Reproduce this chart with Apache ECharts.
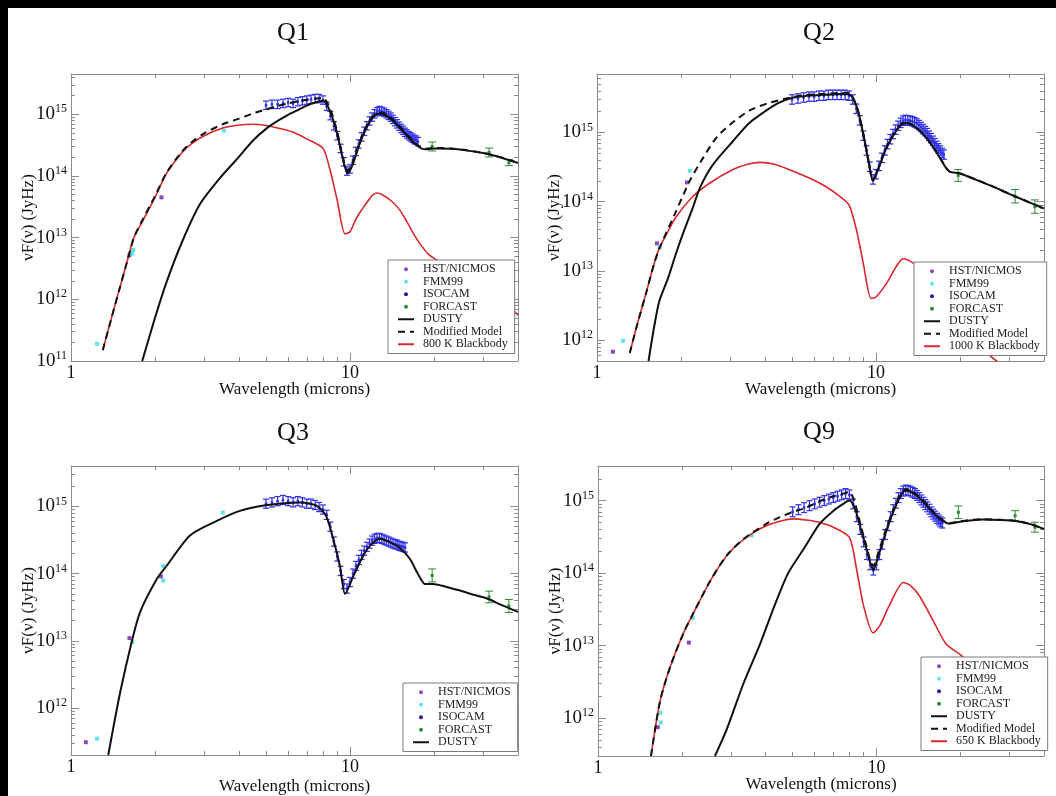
<!DOCTYPE html>
<html>
<head>
<meta charset="utf-8">
<title>SED fits Q1 Q2 Q3 Q9</title>
<script src="https://cdn.jsdelivr.net/npm/echarts@6/dist/echarts.min.js"></script>
<style>
  html, body { margin: 0; padding: 0; background: #fff; }
  #chart { width: 1056px; height: 796px; }
</style>
</head>
<body>
<div id="chart"></div>
<script>
const FONT = "'Liberation Serif', 'Times New Roman', serif";

// --- shared wavelengths (microns) ---
const forcastWave = [19.7, 31.5, 37.1];
const isoWave = [5, 5.25, 5.5, 5.75, 6, 6.25, 6.5, 6.75, 7, 7.25, 7.5, 7.75, 8, 8.25, 8.5, 8.75, 9, 9.25, 9.5, 9.75,
  10, 10.25, 10.5, 10.75, 11, 11.25, 11.5, 11.75, 12, 12.25, 12.5, 12.75, 13, 13.25, 13.5, 13.75, 14, 14.25, 14.5, 14.75,
  15, 15.25, 15.5, 15.75, 16, 16.25, 16.5, 16.75, 17, 17.25, 17.5];
const isoErr = 0.17; // fractional error bar on ISOCAM points
const xLabels = [1, 10];
const xMinor = [2, 3, 4, 5, 6, 7, 8, 9, 20, 30, 40];
const minorSteps = [2, 3, 4, 5, 6, 7, 8, 9];

// --- Q1 ---
const q1YDecades = [1e11, 1e12, 1e13, 1e14, 1e15];
const q1Nicmos = [[1.62, 5.2e12], [2.11, 4.5e13]];
const q1Fmm = [[1.24, 1.9e11], [1.65, 5.5e12], [1.67, 6.3e12], [3.53, 5.4e14]];
const q1Iso = [1.4e15, 1.45e15, 1.45e15, 1.5e15, 1.55e15, 1.5e15, 1.6e15, 1.65e15, 1.7e15, 1.75e15,
  1.8e15, 1.8e15, 1.7e15, 1.35e15, 9.5e14, 6.5e14, 4.5e14, 2.8e14, 1.7e14, 1.2e14,
  1.3e14, 1.8e14, 2.5e14, 3.3e14, 4.3e14, 5.3e14, 6.5e14, 7.8e14, 9e14, 1.02e15,
  1.1e15, 1.15e15, 1.12e15, 1.08e15, 1.02e15, 9.6e14, 9e14, 8.3e14, 7.6e14, 7e14,
  6.4e14, 5.9e14, 5.5e14, 5.1e14, 4.8e14, 4.5e14, 4.3e14, 4.1e14, 3.9e14, 3.8e14, 3.6e14];
const q1Forcast = [3.0e14, 2.4e14, 1.65e14];
const q1ForcastErr = [0.18, 0.18, 0.12];
const q1Dusty = [[1.8, 1e11], [2.0, 5e11], [2.2, 1.9e12], [2.5, 8.5e12], [2.9, 3.5e13], [3.4, 9e13], [3.9, 1.8e14],
  [4.5, 3.8e14], [5.0, 5.8e14], [5.5, 7.8e14], [6.0, 9.8e14], [6.5, 1.17e15], [7.0, 1.38e15], [7.5, 1.55e15],
  [8.0, 1.65e15], [8.3, 1.38e15], [8.6, 9.5e14], [9.0, 4.8e14], [9.4, 2e14], [9.8, 1.1e14], [10.2, 1.5e14],
  [10.8, 3.2e14], [11.4, 5.8e14], [12.0, 8.6e14], [12.6, 1.02e15], [13.2, 1e15], [14.0, 8.4e14], [15.0, 6.2e14],
  [16.0, 4.5e14], [17.0, 3.4e14], [18.0, 2.8e14], [18.8, 2.7e14], [20, 2.8e14], [23, 2.75e14], [26, 2.6e14],
  [30, 2.35e14], [34, 2.05e14], [38, 1.75e14], [40, 1.62e14]];
const q1Modified = [[1.3, 1.5e11], [1.4, 5.2e11], [1.5, 1.6e12], [1.6, 4.6e12], [1.68, 1e13], [1.8, 1.9e13],
  [2.0, 4.7e13], [2.2, 1.13e14], [2.5, 2.5e14], [2.7, 3.5e14], [3.0, 4.9e14], [3.5, 6.9e14], [4.0, 8.5e14],
  [4.5, 1.04e15], [5.0, 1.2e15], [5.5, 1.36e15], [6.0, 1.5e15], [6.5, 1.63e15], [7.0, 1.72e15], [7.6, 1.8e15],
  [8.0, 1.85e15], [8.3, 1.52e15], [8.6, 1.05e15], [9.0, 5.2e14], [9.4, 2.1e14], [9.8, 1.2e14], [10.2, 1.65e14],
  [10.8, 3.4e14], [11.4, 6.1e14], [12.0, 9e14], [12.6, 1.07e15], [13.2, 1.05e15], [14.0, 8.8e14], [15.0, 6.5e14],
  [16.0, 4.7e14], [17.0, 3.5e14], [18.0, 2.87e14], [18.8, 2.76e14], [20, 2.85e14], [23, 2.79e14], [26, 2.63e14],
  [30, 2.36e14], [34, 2.06e14], [38, 1.76e14], [40, 1.63e14]];
const q1Blackbody = [[1.3, 1.5e11], [1.4, 5.2e11], [1.5, 1.6e12], [1.6, 4.6e12], [1.68, 1e13], [1.8, 1.8e13],
  [2.0, 4.5e13], [2.2, 1.1e14], [2.5, 2.4e14], [2.7, 3.3e14], [3.0, 4.5e14], [3.5, 6e14], [4.0, 6.7e14],
  [4.5, 6.9e14], [5.0, 6.6e14], [5.5, 6e14], [6.2, 5.2e14], [7.0, 4e14], [8.0, 2.8e14], [8.5, 1.2e14],
  [9.0, 4e13], [9.6, 1.15e13], [10.0, 1.25e13], [10.5, 2e13], [11.0, 2.8e13], [12.0, 4.8e13], [12.5, 5.3e13],
  [13.0, 5e13], [14.0, 4e13], [15.0, 2.9e13], [16.0, 1.8e13], [17.0, 1.1e13], [18.0, 7.5e12], [19.0, 5.5e12],
  [20, 4.6e12], [22, 3.6e12], [25, 2.4e12], [30, 1.3e12], [35, 9e11], [38, 7e11], [40, 5.5e11]];

// --- Q2 ---
const q2YDecades = [1e12, 1e13, 1e14, 1e15];
const q2Nicmos = [[1.14, 6.8e11], [1.64, 2.5e13], [2.1, 1.9e14]];
const q2Fmm = [[1.24, 9.8e11], [1.68, 2.2e13], [2.15, 2.8e14]];
const q2Iso = [3.0e15, 3.1e15, 3.2e15, 3.3e15, 3.3e15, 3.4e15, 3.4e15, 3.5e15, 3.5e15, 3.5e15,
  3.5e15, 3.5e15, 3.4e15, 3.0e15, 2.2e15, 1.5e15, 9e14, 5.5e14, 3.2e14, 2.1e14,
  2.5e14, 3.3e14, 4.3e14, 5.5e14, 6.8e14, 8e14, 9.5e14, 1.1e15, 1.25e15, 1.38e15,
  1.48e15, 1.52e15, 1.5e15, 1.48e15, 1.45e15, 1.4e15, 1.35e15, 1.28e15, 1.2e15, 1.12e15,
  1.05e15, 9.8e14, 9e14, 8.3e14, 7.6e14, 7e14, 6.4e14, 5.9e14, 5.5e14, 5.1e14, 4.8e14];
const q2Forcast = [2.4e14, 1.2e14, 8.5e13];
const q2ForcastErr = [0.22, 0.25, 0.25];
const q2Dusty = [[1.53, 5e11], [1.6, 1.5e12], [1.67, 3.6e12], [1.8, 8e12], [1.92, 1.8e13], [2.05, 3.8e13],
  [2.2, 8e13], [2.34, 1.6e14], [2.6, 3.4e14], [3.08, 7.6e14], [3.5, 1.35e15], [4.06, 2.1e15], [4.5, 2.7e15],
  [5.05, 3.2e15], [5.5, 3.35e15], [6.5, 3.5e15], [7.5, 3.6e15], [7.9, 3.6e15], [8.2, 3.3e15], [8.6, 2.1e15],
  [9.0, 9.5e14], [9.4, 3.8e14], [9.75, 2e14], [10.2, 3e14], [10.8, 5.5e14], [11.5, 9e14], [12.2, 1.25e15],
  [12.7, 1.38e15], [13.3, 1.32e15], [14.0, 1.15e15], [15.0, 8.8e14], [16.0, 6.2e14], [17.0, 4.2e14],
  [17.8, 3.1e14], [18.4, 2.7e14], [20, 2.55e14], [23, 2.05e14], [26, 1.68e14], [30, 1.3e14], [34, 1.05e14],
  [38, 8.7e13], [40, 8e13]];
const q2Modified = [[1.31, 6.5e11], [1.4, 1.8e12], [1.5, 4.8e12], [1.6, 1.25e13], [1.68, 2.2e13], [1.9, 6.6e13],
  [2.15, 2e14], [2.4, 4.3e14], [2.69, 8.6e14], [3.1, 1.45e15], [3.54, 2.1e15], [4.1, 2.65e15], [4.78, 3.1e15],
  [5.5, 3.45e15], [6.5, 3.62e15], [7.5, 3.72e15], [7.9, 3.72e15], [8.2, 3.4e15], [8.6, 2.15e15], [9.0, 9.7e14],
  [9.4, 3.9e14], [9.75, 2.05e14], [10.2, 3.05e14], [10.8, 5.6e14], [11.5, 9.1e14], [12.2, 1.26e15],
  [12.7, 1.4e15], [13.3, 1.33e15], [14.0, 1.16e15], [15.0, 8.9e14], [16.0, 6.3e14], [17.0, 4.25e14],
  [17.8, 3.12e14], [18.4, 2.72e14], [20, 2.57e14], [23, 2.06e14], [26, 1.69e14], [30, 1.3e14], [34, 1.05e14],
  [38, 8.7e13], [40, 8e13]];
const q2Blackbody = [[1.31, 6.5e11], [1.4, 1.8e12], [1.5, 4.8e12], [1.6, 1.25e13], [1.67, 2.1e13], [1.8, 3.8e13],
  [1.92, 6e13], [2.2, 1.18e14], [2.53, 1.85e14], [3.06, 2.9e14], [3.5, 3.5e14], [3.84, 3.7e14], [4.3, 3.5e14],
  [4.89, 2.9e14], [5.77, 2.2e14], [6.6, 1.66e14], [7.4, 1.2e14], [8.0, 9e13], [8.5, 4e13], [9.0, 1.3e13],
  [9.6, 4e12], [10.0, 4.2e12], [10.9, 6.6e12], [11.8, 1.15e13], [12.5, 1.5e13], [13.2, 1.4e13], [14.3, 1.1e13],
  [16, 6e12], [18, 3e12], [20, 1.8e12], [23, 1e12], [25, 6.5e11], [28, 4.5e11]];

// --- Q3 ---
const q3YDecades = [1e12, 1e13, 1e14, 1e15];
const q3Nicmos = [[1.13, 3.1e11], [1.62, 1.1e13], [2.1, 9.1e13]];
const q3Fmm = [[1.24, 3.5e11], [1.66, 9.6e12], [2.14, 1.3e14], [2.14, 7.9e13], [3.5, 8.1e14]];
const q3Iso = [1.1e15, 1.15e15, 1.2e15, 1.25e15, 1.2e15, 1.15e15, 1.2e15, 1.15e15, 1.1e15, 1.1e15,
  1.05e15, 9.8e14, 9e14, 7.5e14, 5e14, 3e14, 1.8e14, 1.1e14, 7e13, 6e13,
  7.5e13, 1e14, 1.3e14, 1.6e14, 1.9e14, 2.2e14, 2.5e14, 2.8e14, 3.1e14, 3.3e14,
  3.4e14, 3.4e14, 3.3e14, 3.2e14, 3.1e14, 3e14, 2.9e14, 2.8e14, 2.75e14, 2.7e14,
  2.6e14, 2.55e14, 2.5e14, 2.45e14];
const q3Forcast = [9.4e13, 4.5e13, 3.3e13];
const q3ForcastErr = [0.25, 0.22, 0.25];
const q3Dusty = [[1.36, 2e11], [1.5, 1.7e12], [1.65, 9.6e12], [1.77, 2.7e13], [2.03, 8.3e13], [2.2, 1.3e14],
  [2.67, 3.7e14], [3.33, 6.1e14], [4.03, 8.6e14], [5.03, 1.05e15], [5.8, 1.12e15], [6.62, 1.15e15],
  [7.2, 1.1e15], [7.6, 1.02e15], [8.2, 7.3e14], [8.7, 3.3e14], [9.2, 1.3e14], [9.6, 5e13], [10.3, 9.4e13],
  [11.5, 2.3e14], [12.8, 3.3e14], [14.0, 2.9e14], [15.1, 2.4e14], [16.4, 1.65e14], [17.5, 1e14], [18.6, 7e13],
  [19.8, 7e13], [22, 6.4e13], [24.8, 5.6e13], [28, 4.8e13], [31.3, 4.2e13], [35, 3.4e13], [40, 2.7e13]];

// --- Q9 ---
const q9YDecades = [1e12, 1e13, 1e14, 1e15];
const q9Nicmos = [[1.64, 7.5e11], [2.12, 1.1e13]];
const q9Fmm = [[1.67, 1.18e12], [1.68, 8.7e11], [2.19, 2.4e13], [3.56, 3.3e14]];
const q9Iso = [7e14, 7.5e14, 8e14, 8.5e14, 9e14, 9.5e14, 1e15, 1.05e15, 1.1e15, 1.15e15,
  1.2e15, 1.25e15, 1.2e15, 9e14, 6e14, 4e14, 2.7e14, 1.8e14, 1.3e14, 1.1e14,
  1.3e14, 1.8e14, 2.5e14, 3.4e14, 4.5e14, 6e14, 7.5e14, 9.2e14, 1.1e15, 1.25e15,
  1.35e15, 1.4e15, 1.38e15, 1.35e15, 1.3e15, 1.25e15, 1.18e15, 1.1e15, 1.02e15, 9.5e14,
  8.8e14, 8.2e14, 7.6e14, 7e14, 6.5e14, 6.1e14, 5.7e14, 5.4e14, 5.1e14, 4.9e14];
const q9Forcast = [6.9e14, 6.2e14, 4.3e14];
const q9ForcastErr = [0.22, 0.17, 0.17];
const q9Dusty = [[2.63, 3e11], [2.9, 7e11], [3.33, 3e12], [3.82, 1.05e13], [4.3, 3.5e13], [4.82, 1e14],
  [5.5, 2.2e14], [6.26, 4.8e14], [7.0, 7.2e14], [7.6, 9e14], [8.0, 1e15], [8.4, 7.5e14], [8.8, 4e14],
  [9.2, 2.2e14], [9.5, 1.4e14], [9.75, 1.1e14], [10.2, 1.8e14], [10.8, 3.6e14], [11.5, 7e14], [12.2, 1.15e15],
  [12.7, 1.37e15], [13.3, 1.32e15], [14.2, 1.1e15], [15.2, 8.5e14], [16.2, 6.5e14], [17.3, 5.3e14],
  [18.3, 4.8e14], [20, 5.1e14], [24, 5.5e14], [28, 5.4e14], [32, 5.2e14], [36, 4.7e14], [40, 4.05e14]];
const q9Modified = [[1.55, 3e11], [1.67, 1.7e12], [1.82, 5.2e12], [2.03, 1.5e13], [2.2, 2.8e13], [2.53, 7.8e13],
  [2.9, 1.75e14], [3.33, 2.95e14], [4.03, 4.8e14], [4.5, 5.9e14], [5.03, 7e14], [5.6, 8e14], [6.26, 9.8e14],
  [7.0, 1.15e15], [7.6, 1.25e15], [8.0, 1.31e15], [8.4, 8.8e14], [8.8, 4.4e14], [9.2, 2.4e14], [9.5, 1.5e14],
  [9.75, 1.25e14], [10.2, 2e14], [10.8, 3.9e14], [11.5, 7.4e14], [12.2, 1.21e15], [12.7, 1.44e15],
  [13.3, 1.39e15], [14.2, 1.15e15], [15.2, 8.8e14], [16.2, 6.6e14], [17.3, 5.4e14], [18.3, 4.9e14],
  [20, 5.18e14], [24, 5.54e14], [28, 5.43e14], [32, 5.22e14], [36, 4.72e14], [40, 4.06e14]];
const q9Blackbody = [[1.55, 3e11], [1.67, 1.7e12], [1.82, 5.2e12], [2.03, 1.5e13], [2.2, 2.8e13], [2.53, 7.8e13],
  [2.9, 1.74e14], [3.33, 2.9e14], [4.03, 4.5e14], [5.03, 5.6e14], [5.6, 5.4e14], [6.26, 5e14], [7.0, 4.3e14],
  [8.0, 3.1e14], [8.5, 1.1e14], [9.0, 3.5e13], [9.73, 1.5e13], [10.3, 1.9e13], [11.1, 3.5e13], [12.5, 7.4e13],
  [13.2, 6.8e13], [14.3, 4.8e13], [15.9, 2.3e13], [17.8, 1.05e13], [20, 7.5e12], [25, 3.5e12], [30, 2.2e12],
  [35, 1.5e12], [38, 1.15e12], [40, 9.3e11]];

const colors = {
  nicmos: '#7419a8', fmm: '#38dde6', iso: '#1f1f9e', isoBar: '#2f2fe6',
  forcast: '#2f8a35', dusty: '#111111', bb: '#d8282c'
};

const panels = [
  { title: 'Q1', titleX: 293, titleY: 20, grid: { left: 71, top: 74, width: 447, height: 287 },
    yMin: 1e11, yMax: 4.5e15, yDecades: q1YDecades, xNameGap: 20, legendPos: { left: 388, top: 260 },
    nicmos: q1Nicmos, fmm: q1Fmm, iso: q1Iso, forcast: q1Forcast, forcastErr: q1ForcastErr,
    dusty: q1Dusty, modified: q1Modified, bb: q1Blackbody, bbName: '800 K Blackbody' },
  { title: 'Q2', titleX: 819, titleY: 20, grid: { left: 597, top: 74, width: 447, height: 287 },
    yMin: 5e11, yMax: 7e15, yDecades: q2YDecades, xNameGap: 20, legendPos: { left: 914, top: 262 },
    nicmos: q2Nicmos, fmm: q2Fmm, iso: q2Iso, forcast: q2Forcast, forcastErr: q2ForcastErr,
    dusty: q2Dusty, modified: q2Modified, bb: q2Blackbody, bbName: '1000 K Blackbody' },
  { title: 'Q3', titleX: 293, titleY: 420, grid: { left: 71, top: 466, width: 447, height: 291 },
    yMin: 2e11, yMax: 4e15, yDecades: q3YDecades, xNameGap: 23, legendPos: { left: 403, top: 683 },
    nicmos: q3Nicmos, fmm: q3Fmm, iso: q3Iso, forcast: q3Forcast, forcastErr: q3ForcastErr,
    dusty: q3Dusty, modified: null, bb: null, bbName: null },
  { title: 'Q9', titleX: 819, titleY: 419, grid: { left: 598, top: 466, width: 446, height: 290 },
    yMin: 3e11, yMax: 3e15, yDecades: q9YDecades, xNameGap: 20, legendPos: { left: 921, top: 657 },
    nicmos: q9Nicmos, fmm: q9Fmm, iso: q9Iso, forcast: q9Forcast, forcastErr: q9ForcastErr,
    dusty: q9Dusty, modified: q9Modified, bb: q9Blackbody, bbName: '650 K Blackbody' }
];

const frameColor = '#8c8c8c';

function frameAxis(gi, min, max, position, tickValues, tickLen, showLine) {
  return {
    type: 'log', logBase: 10, gridIndex: gi, min, max, position,
    axisLine: { show: showLine, onZero: false, lineStyle: { color: frameColor, width: 1 } },
    axisTick: { show: true, inside: true, length: tickLen, customValues: tickValues,
      lineStyle: { color: frameColor, width: 1 } },
    axisLabel: { show: false },
    splitLine: { show: false }
  };
}

function yMinorTicks(decades, min, max) {
  const out = [];
  [decades[0] / 10].concat(decades).forEach(d => minorSteps.forEach(k => {
    const v = k * d;
    if (v > min && v < max) out.push(v);
  }));
  return out;
}

function errorBars(color, cap, dot, width) {
  return function (params, api) {
    const x = api.value(0);
    const c = api.coord([x, api.value(1)]);
    const lo = api.coord([x, api.value(2)]);
    const hi = api.coord([x, api.value(3)]);
    const style = { stroke: color, lineWidth: width };
    return {
      type: 'group',
      children: [
        { type: 'line', shape: { x1: c[0], y1: lo[1], x2: c[0], y2: hi[1] }, style },
        { type: 'line', shape: { x1: c[0] - cap, y1: lo[1], x2: c[0] + cap, y2: lo[1] }, style },
        { type: 'line', shape: { x1: c[0] - cap, y1: hi[1], x2: c[0] + cap, y2: hi[1] }, style },
        { type: 'rect', shape: { x: c[0] - dot / 2, y: c[1] - dot / 2, width: dot, height: dot },
          style: { fill: color } }
      ]
    };
  };
}

const option = {
  animation: false,
  backgroundColor: '#ffffff',
  title: [], grid: [], xAxis: [], yAxis: [], legend: [], series: [],
  graphic: [
    { type: 'rect', left: 0, top: 0, shape: { width: 1056, height: 8 }, style: { fill: '#000' }, silent: true },
    { type: 'rect', left: 0, top: 0, shape: { width: 8, height: 796 }, style: { fill: '#000' }, silent: true }
  ]
};

panels.forEach((p, gi) => {
  option.grid.push(Object.assign({ containLabel: false }, p.grid));
  option.title.push({
    text: p.title, left: p.titleX, top: p.titleY, textAlign: 'center', padding: 0,
    textStyle: { fontFamily: FONT, fontSize: 26, fontWeight: 'normal', color: '#111' }
  });

  const xi = option.xAxis.length;
  const mainX = frameAxis(gi, 1, 40, 'bottom', xLabels, 8, true);
  mainX.axisLabel = { show: true, customValues: xLabels, margin: 3,
    fontFamily: FONT, fontSize: 18, color: '#111' };
  mainX.name = 'Wavelength (microns)';
  mainX.nameLocation = 'middle';
  mainX.nameGap = p.xNameGap;
  mainX.nameMoveOverlap = false;
  mainX.nameTextStyle = { fontFamily: FONT, fontSize: 17, color: '#111', verticalAlign: 'top' };
  option.xAxis.push(mainX,
    frameAxis(gi, 1, 40, 'top', xLabels, 8, true),
    frameAxis(gi, 1, 40, 'bottom', xMinor, 4, false),
    frameAxis(gi, 1, 40, 'top', xMinor, 4, false));

  const yi = option.yAxis.length;
  const yMinor = yMinorTicks(p.yDecades, p.yMin, p.yMax);
  const mainY = frameAxis(gi, p.yMin, p.yMax, 'left', p.yDecades, 8, true);
  mainY.axisLabel = {
    show: true, customValues: p.yDecades, margin: 4,
    formatter: v => '{b|10}{s|' + Math.round(Math.log10(v)) + '}',
    rich: {
      b: { fontFamily: FONT, fontSize: 19, color: '#111', lineHeight: 22 },
      s: { fontFamily: FONT, fontSize: 12, color: '#111', verticalAlign: 'top', lineHeight: 12 }
    }
  };
  mainY.name = 'νF(ν) (JyHz)';
  mainY.nameLocation = 'middle';
  mainY.nameGap = 34;
  mainY.nameMoveOverlap = false;
  mainY.nameTextStyle = { fontFamily: FONT, fontSize: 17, color: '#111' };
  option.yAxis.push(mainY,
    frameAxis(gi, p.yMin, p.yMax, 'right', p.yDecades, 8, true),
    frameAxis(gi, p.yMin, p.yMax, 'left', yMinor, 4, false),
    frameAxis(gi, p.yMin, p.yMax, 'right', yMinor, 4, false));

  const axes = { xAxisIndex: xi, yAxisIndex: yi };

  if (p.bb) {
    option.series.push(Object.assign({
      type: 'line', name: p.bbName, data: p.bb, symbol: 'none', showSymbol: false, smooth: 0.25,
      lineStyle: { color: colors.bb, width: 1.6 }, itemStyle: { color: colors.bb }, silent: true
    }, axes));
  }
  option.series.push(Object.assign({
    type: 'custom', name: 'ISOCAM', itemStyle: { color: colors.iso }, silent: true,
    renderItem: errorBars(colors.isoBar, 3, 2.5, 1.2),
    encode: { x: 0, y: 1 },
    data: p.iso.map((v, i) => [isoWave[i], v, v / (1 + isoErr), v * (1 + isoErr)])
  }, axes));
  if (p.modified) {
    option.series.push(Object.assign({
      type: 'line', name: 'Modified Model', data: p.modified, symbol: 'none', showSymbol: false, smooth: 0.25,
      lineStyle: { color: colors.dusty, width: 2, type: [7, 5] }, itemStyle: { color: colors.dusty }, silent: true
    }, axes));
  }
  option.series.push(Object.assign({
    type: 'line', name: 'DUSTY', data: p.dusty, symbol: 'none', showSymbol: false, smooth: 0.25,
    lineStyle: { color: colors.dusty, width: 2 }, itemStyle: { color: colors.dusty }, silent: true
  }, axes));
  option.series.push(Object.assign({
    type: 'scatter', name: 'HST/NICMOS', data: p.nicmos, symbol: 'rect', symbolSize: 4,
    itemStyle: { color: colors.nicmos }, silent: true
  }, axes));
  option.series.push(Object.assign({
    type: 'scatter', name: 'FMM99', data: p.fmm, symbol: 'rect', symbolSize: 4,
    itemStyle: { color: colors.fmm }, silent: true
  }, axes));
  option.series.push(Object.assign({
    type: 'custom', name: 'FORCAST', itemStyle: { color: colors.forcast }, silent: true,
    renderItem: errorBars(colors.forcast, 4, 3, 1),
    encode: { x: 0, y: 1 },
    data: p.forcast.map((v, i) => [forcastWave[i], v, v / (1 + p.forcastErr[i]), v * (1 + p.forcastErr[i])])
  }, axes));

  const names = ['HST/NICMOS', 'FMM99', 'ISOCAM', 'FORCAST', 'DUSTY'];
  if (p.modified) names.push('Modified Model');
  if (p.bb) names.push(p.bbName);
  const pointNames = ['HST/NICMOS', 'FMM99', 'ISOCAM', 'FORCAST'];
  option.legend.push({
    left: p.legendPos.left, top: p.legendPos.top, orient: 'vertical', selectedMode: false,
    itemGap: 0, itemWidth: 16, itemHeight: 4, padding: [3, 7, 3, 9],
    backgroundColor: '#fff', borderColor: '#7a7a7a', borderWidth: 1, borderRadius: 0,
    textStyle: { fontFamily: FONT, fontSize: 12, lineHeight: 12.5, color: '#222', padding: [0, 0, 0, 4] },
    data: names.map(n => pointNames.includes(n)
      ? { name: n, icon: 'circle' }
      : { name: n, itemStyle: { opacity: 0 } })
  });
});

const chart = echarts.init(document.getElementById('chart'));
chart.setOption(option);
window.addEventListener('resize', () => chart.resize());
</script>
</body>
</html>
